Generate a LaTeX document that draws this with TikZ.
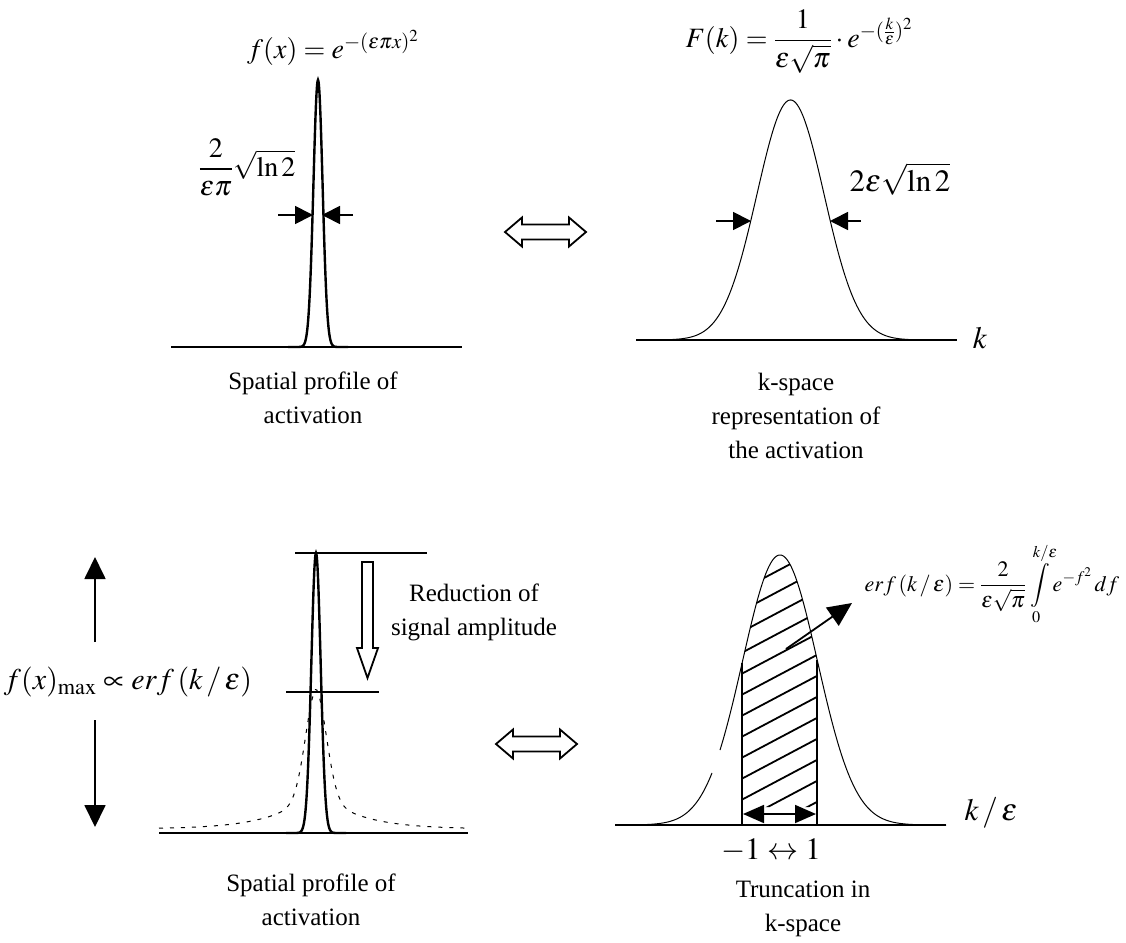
\documentclass[tikz,border=0pt]{standalone}
\usepackage{amsmath}
\usepackage{mathptmx}
\usepackage{fontspec}
\setmainfont{Liberation Serif}
\usetikzlibrary{arrows.meta}
\begin{document}
\begin{tikzpicture}[x=1pt,y=-1pt,
  ax/.style={line width=1.8pt},
  thickcurve/.style={line width=2.4pt},
  thincurve/.style={line width=1pt},
  lbl/.style={font=\fontsize{25}{34}\selectfont, align=center, inner sep=0pt},
  mth/.style={font=\fontsize{28}{32}\selectfont, inner sep=0pt},
  bigmth/.style={font=\fontsize{31}{36}\selectfont, inner sep=0pt},
  smallmth/.style={font=\fontsize{22}{26}\selectfont, inner sep=0pt},
  widtharrow/.style={line width=1.8pt, -{Triangle[length=18pt,width=18pt]}},
  bigarrow/.style={line width=1.8pt, -{Triangle[length=22pt,width=21pt]}},
  outl/.style={draw, line width=1.8pt, fill=white, line join=miter},
  dblarrow/.pic={
    \draw[outl] (-40.5,0) -- (-23.5,-14.5) -- (-23.5,-7.5) -- (23.5,-7.5) -- (23.5,-14.5) -- (40.5,0)
      -- (23.5,14.5) -- (23.5,7.5) -- (-23.5,7.5) -- (-23.5,14.5) -- cycle;
  }
]
\useasboundingbox[fill=white] (0,0) rectangle (1126,942);

% ---------- top left ----------
\draw[ax] (171,347) -- (462,347);
\draw[thickcurve] plot[domain=-30:30, samples=121, smooth] ({318+\x},{347-267*exp(-(\x/6.5)^2)});
\node[mth] (fx) at (333,48) {$f(x)=e^{-(\varepsilon\pi x)^2}$};
\node[mth] (fwhmx) at (247,167) {$\dfrac{2}{\varepsilon\pi}\sqrt{\ln 2}$};
\coordinate (wl0) at (278,215); \coordinate (wl1) at (313,215);
\coordinate (wr0) at (353,215); \coordinate (wr1) at (322,215);
\draw[widtharrow] (wl0) -- (wl1);
\draw[widtharrow] (wr0) -- (wr1);
\node[lbl] (cap1) at (313,398) {Spatial profile of\\activation};

% ---------- top arrow ----------
\pic (dbl1) at (545.5,232) {dblarrow};

% ---------- top right ----------
\draw[ax] (636,340) -- (957,340);
\draw[thincurve] plot[domain=-154:166, samples=200, smooth] ({790.5+\x},{340-240*exp(-(\x/47.5)^2)});
\node[mth] (Fk) at (799,42) {$F(k)=\dfrac{1}{\varepsilon\sqrt{\pi}}\cdot e^{-(\frac{k}{\varepsilon})^2}$};
\node[bigmth] (fwhmk) at (900,179) {$2\varepsilon\sqrt{\ln 2}$};
\node[bigmth] (klab) at (980,338) {$k$};
\coordinate (kl0) at (716,221); \coordinate (kl1) at (751,221);
\coordinate (kr0) at (861,221); \coordinate (kr1) at (830,221);
\draw[widtharrow] (kl0) -- (kl1);
\draw[widtharrow] (kr0) -- (kr1);
\node[lbl] (cap2) at (796,416) {k-space\\representation of\\the activation};

% ---------- bottom left ----------
\draw[ax] (159,833) -- (468,833);
\draw[thincurve, dash pattern=on 4pt off 7pt] plot[domain=-157:152, samples=240, smooth]
  ({316+\x},{833-(100*exp(-min((\x/15)^2,20)) + 40*exp(-abs(\x)/40) + 4)});
\draw[thickcurve] plot[domain=-30:30, samples=121, smooth] ({316+\x},{833-280*exp(-(\x/6.6)^2)});
\draw[ax] (295,553) -- (427,553);
\draw[ax] (286,692) -- (379,692);
\draw[outl] (362,562) -- (373,562) -- (373,648) -- (378,648) -- (367.5,678) -- (357,648) -- (362,648) -- cycle;
\node[lbl] (red) at (474,612) {Reduction of\\signal amplitude};
\node[bigmth, font=\fontsize{30}{34}\selectfont] (fmax) at (128,682) {$f(x)_{\max}\propto erf\,(k\,/\,\varepsilon)$};
\coordinate (up0) at (95,642); \coordinate (up1) at (95,557);
\coordinate (dn0) at (95,720); \coordinate (dn1) at (95,827);
\draw[bigarrow] (up0) -- (up1);
\draw[bigarrow] (dn0) -- (dn1);
\node[lbl] (cap3) at (311,900) {Spatial profile of\\activation};

% ---------- bottom arrow ----------
\pic (dbl2) at (536.5,744) {dblarrow};

% ---------- bottom right ----------
\draw[ax] (615,825) -- (946,825);
\draw[thincurve] plot[domain=-165:-68, samples=80, smooth] ({780+\x},{825-270*exp(-(\x/53)^2)});
\draw[thincurve] plot[domain=-60:166, samples=200, smooth] ({780+\x},{825-270*exp(-(\x/53)^2)});
\begin{scope}
  \clip (742,807) -- plot[domain=-38:37, samples=60] ({780+\x},{825-270*exp(-(\x/53)^2)}) -- (817,807) -- cycle;
  \foreach \i in {0,...,14} \draw[line width=1.8pt] (730,{848-21*\i}) -- ++(100,-53);
\end{scope}
\draw[line width=1.5pt] (742,825) -- (742,663);
\draw[line width=1.5pt] (817,825) -- (817,660);
\coordinate (e0) at (786,649); \coordinate (e1) at (852,603);
\draw[line width=1.8pt, -{Triangle[length=24pt,width=22pt]}] (e0) -- (e1);
\coordinate (t0) at (743,814); \coordinate (t1) at (816,814);
\draw[line width=1.8pt, {Triangle[length=21pt,width=18pt]}-{Triangle[length=21pt,width=18pt]}] (t0) -- (t1);
\node[bigmth] (ke) at (991,813) {$k\,/\,\varepsilon$};
\node[bigmth] (pm) at (771,850) {$-1\leftrightarrow 1$};
\node[smallmth] (erf) at (992,584) {$\displaystyle erf\,(k\,/\,\varepsilon)=\frac{2}{\varepsilon\sqrt{\pi}}\int\limits_0^{k/\varepsilon}\! e^{-f^2}\,df$};
\node[lbl] (cap4) at (803,909) {Truncation in\\k-space};
\end{tikzpicture}
\end{document}
